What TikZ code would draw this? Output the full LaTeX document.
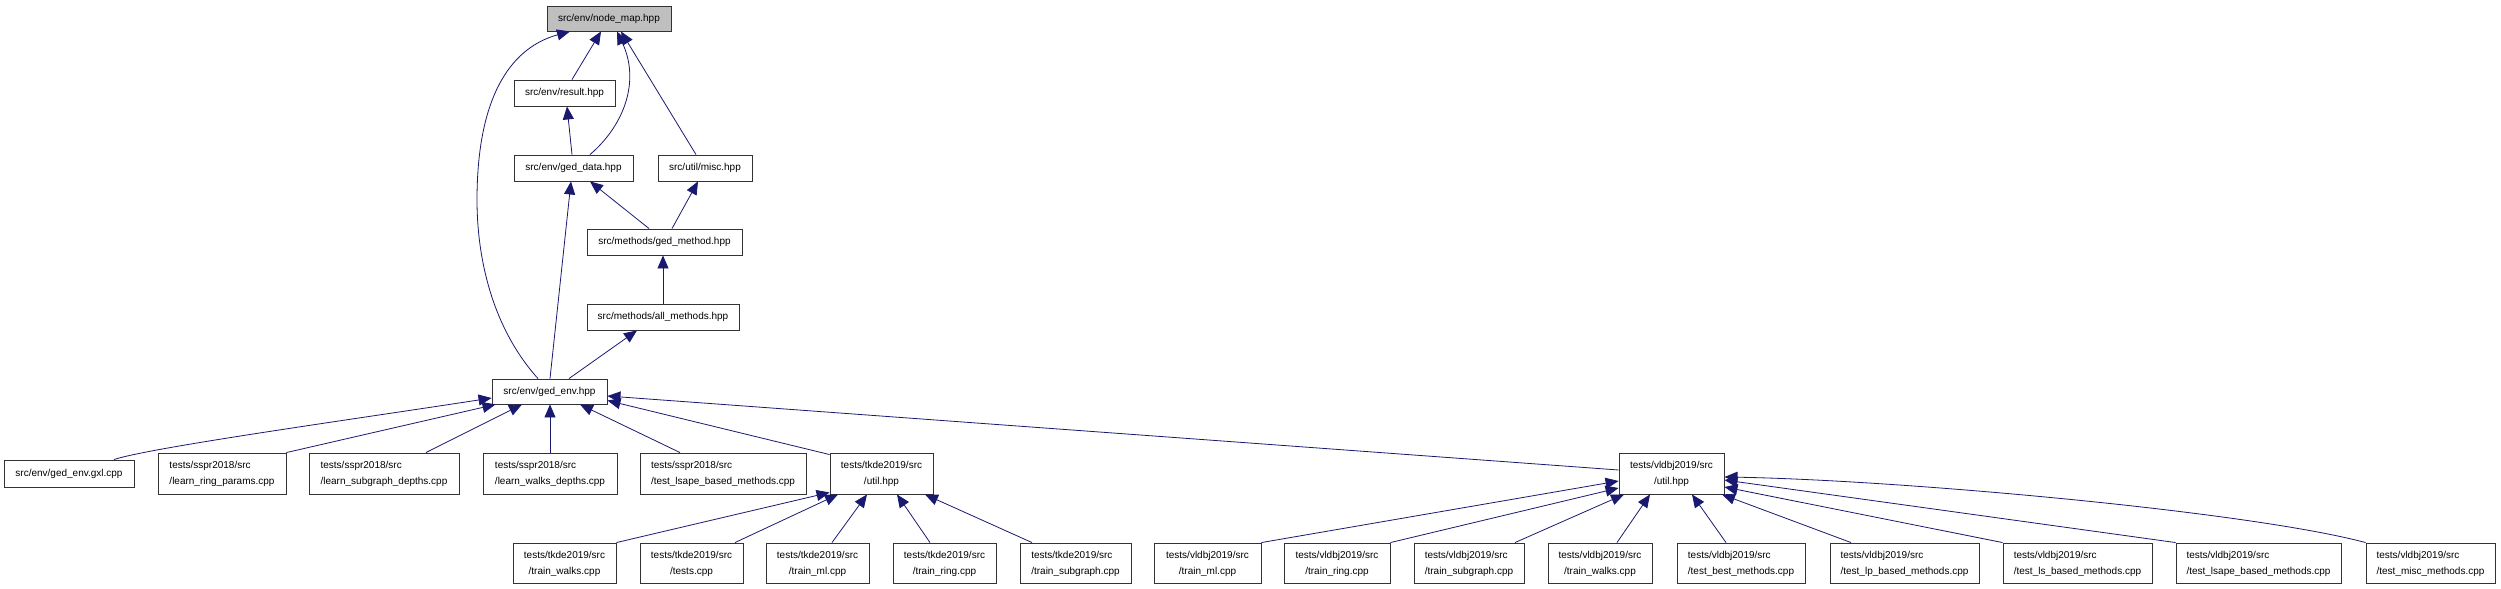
\documentclass[tikz,border=0pt]{standalone}
\usepackage{fontspec}
\setmainfont{Liberation Sans}
\usetikzlibrary{arrows.meta}

\definecolor{edgeblue}{HTML}{191970}
\definecolor{boxgrey}{HTML}{BFBFBF}
\newcommand{\twoline}[2]{\begin{tabular}{@{}l@{}}#1\\\multicolumn{1}{@{}c@{}}{#2}\end{tabular}}

\begin{document}
\begin{tikzpicture}[x=1pt,y=-1pt,
    file/.style={draw=black!80, line width=.9pt, inner sep=1pt, minimum height=26pt,
        font=\fontsize{10pt}{16pt}\selectfont},
    dep/.style={draw=edgeblue, line width=.8pt, -{Triangle[length=13pt,width=11pt]}}]

    \useasboundingbox (0,0) rectangle (2501,589);

    \def\sspr{tests/sspr2018/src}
    \def\tkde{tests/tkde2019/src}
    \def\vldbj{tests/vldbj2019/src}

    %upper part:
    \node[file, fill=boxgrey, minimum width=124pt, minimum height=25pt] (nodemap) at (609,18.5) {src/env/node\_map.hpp};
    \node[file, minimum width=101pt] (result) at (564.5,93) {src/env/result.hpp};
    \node[file, minimum width=119pt] (geddata) at (573.5,168) {src/env/ged\_data.hpp};
    \node[file, minimum width=94pt] (misc) at (705,168) {src/util/misc.hpp};
    \node[file, minimum width=155pt] (gedmethod) at (664.5,242) {src/methods/ged\_method.hpp};
    \node[file, minimum width=152pt] (allmethods) at (663,317) {src/methods/all\_methods.hpp};
    \node[file, minimum width=115pt, minimum height=25pt] (gedenv) at (549.5,391.5) {src/env/ged\_env.hpp};

    %third row:
    \node[file, minimum width=130pt, minimum height=27pt] (gxl) at (69,473.5) {src/env/ged\_env.gxl.cpp};
    \node[file, minimum width=128pt, minimum height=41pt] (learnring) at (222,473.5) {\twoline{\sspr}{/learn\_ring\_params.cpp}};
    \node[file, minimum width=150pt, minimum height=41pt] (learnsub) at (384,473.5) {\twoline{\sspr}{/learn\_subgraph\_depths.cpp}};
    \node[file, minimum width=134pt, minimum height=41pt] (learnwalks) at (550,473.5) {\twoline{\sspr}{/learn\_walks\_depths.cpp}};
    \node[file, minimum width=166pt, minimum height=41pt] (ssprlsape) at (723,473.5) {\twoline{\sspr}{/test\_lsape\_based\_methods.cpp}};
    \node[file, minimum width=103pt, minimum height=41pt] (tkdeutil) at (881.5,473.5) {\twoline{\tkde}{/util.hpp}};
    \node[file, minimum width=105pt, minimum height=41pt] (vldbjutil) at (1671.5,473.5) {\twoline{\vldbj}{/util.hpp}};

    %bottom row:
    \node[file, minimum width=103pt, minimum height=40pt] (tkwalks) at (564.5,563) {\twoline{\tkde}{/train\_walks.cpp}};
    \node[file, minimum width=103pt, minimum height=40pt] (tktests) at (691.5,563) {\twoline{\tkde}{/tests.cpp}};
    \node[file, minimum width=103pt, minimum height=40pt] (tkml) at (817.5,563) {\twoline{\tkde}{/train\_ml.cpp}};
    \node[file, minimum width=103pt, minimum height=40pt] (tkring) at (944.5,563) {\twoline{\tkde}{/train\_ring.cpp}};
    \node[file, minimum width=111pt, minimum height=40pt] (tksub) at (1075.5,563) {\twoline{\tkde}{/train\_subgraph.cpp}};
    \node[file, minimum width=107pt, minimum height=40pt] (vlml) at (1207.5,563) {\twoline{\vldbj}{/train\_ml.cpp}};
    \node[file, minimum width=106pt, minimum height=40pt] (vlring) at (1337,563) {\twoline{\vldbj}{/train\_ring.cpp}};
    \node[file, minimum width=110pt, minimum height=40pt] (vlsub) at (1469,563) {\twoline{\vldbj}{/train\_subgraph.cpp}};
    \node[file, minimum width=104pt, minimum height=40pt] (vlwalks) at (1600,563) {\twoline{\vldbj}{/train\_walks.cpp}};
    \node[file, minimum width=128pt, minimum height=40pt] (vlbest) at (1741,563) {\twoline{\vldbj}{/test\_best\_methods.cpp}};
    \node[file, minimum width=149pt, minimum height=40pt] (vllp) at (1904.5,563) {\twoline{\vldbj}{/test\_lp\_based\_methods.cpp}};
    \node[file, minimum width=149pt, minimum height=40pt] (vlls) at (2077.5,563) {\twoline{\vldbj}{/test\_ls\_based\_methods.cpp}};
    \node[file, minimum width=165pt, minimum height=40pt] (vllsape) at (2258.5,563) {\twoline{\vldbj}{/test\_lsape\_based\_methods.cpp}};
    \node[file, minimum width=129pt, minimum height=40pt] (vlmisc) at (2430.5,563) {\twoline{\vldbj}{/test\_misc\_methods.cpp}};

    %edges to node_map:
    \coordinate (bendL) at (477,200);
    \draw[dep] ([xshift=7.5pt]result.north) -- ([xshift=-8pt]nodemap.south);
    \draw[dep] ([xshift=16.5pt]geddata.north) .. controls +(35,-30) and +(23,49) .. ([xshift=8pt]nodemap.south);
    \draw[dep] ([xshift=-9pt]misc.north) -- ([xshift=12pt]nodemap.south);
    \draw[dep] ([xshift=-11.5pt]gedenv.north) .. controls +(-45,-50) and +(0,60) .. (bendL)
        .. controls +(0,-110) and +(-55,15) .. ([xshift=-39pt]nodemap.south);

    %middle edges:
    \draw[dep] ([xshift=-1.5pt]geddata.north) -- ([xshift=2.5pt]result.south);
    \draw[dep] ([xshift=-15.5pt]gedmethod.north) -- ([xshift=16.5pt]geddata.south);
    \draw[dep] ([xshift=7.5pt]gedmethod.north) -- ([xshift=-7pt]misc.south);
    \draw[dep] ([xshift=.5pt]gedenv.north) -- ([xshift=-2.5pt]geddata.south);
    \draw[dep] (allmethods.north) -- ([xshift=-1.5pt]gedmethod.south);
    \draw[dep] ([xshift=19.5pt]gedenv.north) -- ([xshift=-26pt]allmethods.south);

    %edges to ged_env:
    \draw[dep] ([xshift=45pt]gxl.north) .. controls +(36,-12) and +(-143,22) .. ([yshift=-6.5pt]gedenv.west);
    \draw[dep] (learnring.north east) -- ([xshift=4pt]gedenv.south west);
    \draw[dep] ([xshift=42pt]learnsub.north) -- ([xshift=-27.5pt]gedenv.south);
    \draw[dep] (learnwalks.north) -- ([xshift=.5pt]gedenv.south);
    \draw[dep] ([xshift=-43pt]ssprlsape.north) -- ([xshift=30.5pt]gedenv.south);
    \draw[dep] ([yshift=-2pt]tkdeutil.north west) -- ([yshift=-9pt]gedenv.east);
    \draw[dep] ([yshift=3.5pt]vldbjutil.west) -- ([yshift=-4.5pt]gedenv.east);

    %edges to tkde util:
    \draw[dep] (tkwalks.north east) -- ([yshift=2pt]tkdeutil.south west);
    \draw[dep] ([xshift=43.5pt]tktests.north) -- ([xshift=-43.5pt]tkdeutil.south);
    \draw[dep] ([xshift=14.5pt]tkml.north) -- ([xshift=-14.5pt]tkdeutil.south);
    \draw[dep] ([xshift=-14.5pt]tkring.north) -- ([xshift=15.5pt]tkdeutil.south);
    \draw[dep] ([xshift=-43.5pt]tksub.north) -- ([xshift=43.5pt]tkdeutil.south);

    %edges to vldbj util:
    \draw[dep] (vlml.north east) -- ([yshift=-7.5pt]vldbjutil.west);
    \draw[dep] (vlring.north east) -- ([yshift=-14.5pt]vldbjutil.west);
    \draw[dep] ([xshift=46pt]vlsub.north) -- ([xshift=-47.5pt]vldbjutil.south);
    \draw[dep] ([xshift=17pt]vlwalks.north) -- ([xshift=-21.5pt]vldbjutil.south);
    \draw[dep] ([xshift=-15pt]vlbest.north) -- ([xshift=20.5pt]vldbjutil.south);
    \draw[dep] ([xshift=-53.5pt]vllp.north) -- ([xshift=50.5pt]vldbjutil.south);
    \draw[dep] (vlls.north west) -- ([yshift=-13.5pt]vldbjutil.east);
    \draw[dep] (vllsape.north west) -- ([yshift=-6.5pt]vldbjutil.east);
    \draw[dep] (vlmisc.north west) .. controls +(-116,-31) and +(176,3) .. ([yshift=-3.5pt]vldbjutil.east);

\end{tikzpicture}
\end{document}
